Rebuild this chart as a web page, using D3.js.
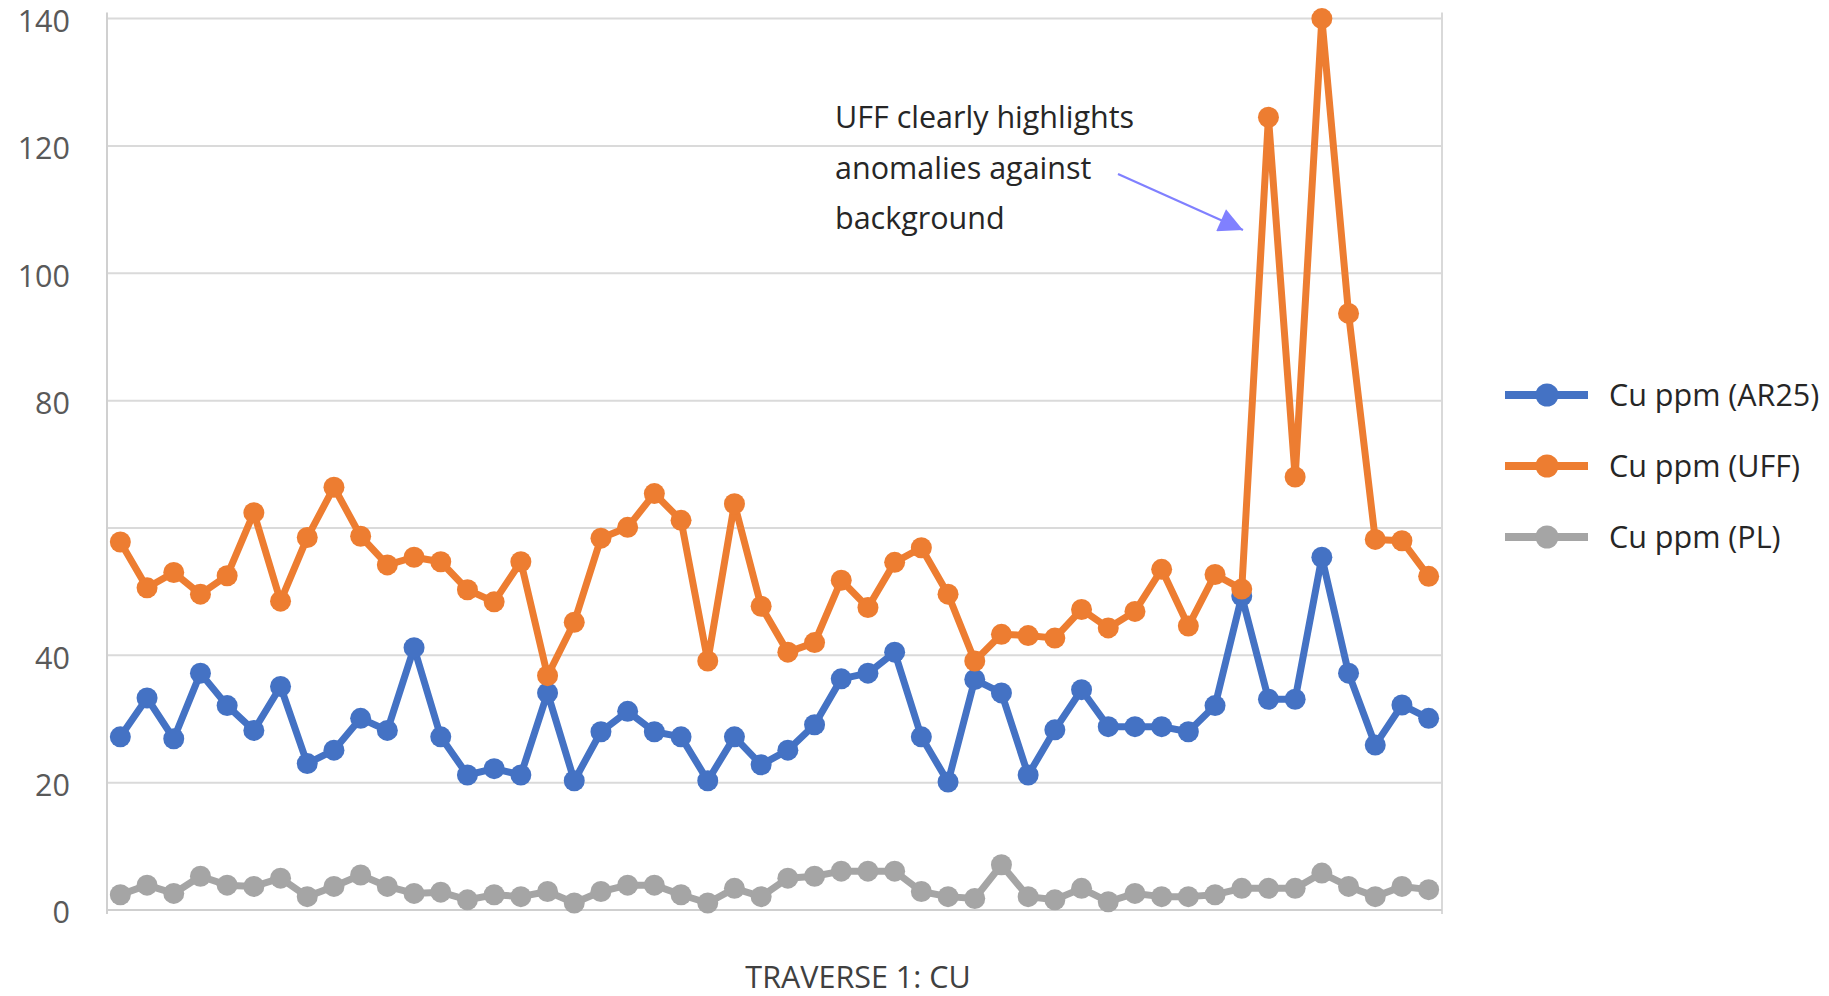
<!DOCTYPE html>
<html>
<head>
<meta charset="utf-8">
<script src="https://cdn.jsdelivr.net/npm/d3@7"></script>
<style>
  html, body { margin: 0; padding: 0; background: #fff; }
  svg { display: block; font-family: "Open Sans", "Noto Sans", sans-serif; }
</style>
</head>
<body>
<svg id="chart" width="1829" height="996"></svg>
<script>
// ---- data ----
const categories = [1,2,3,4,5,6,7,8,9,10,11,12,13,14,15,16,17,18,19,20,21,22,23,24,25,
                    26,27,28,29,30,31,32,33,34,35,36,37,38,39,40,41,42,43,44,45,46,47,48,49,50];
const cuAR25 = [27.2,33.3,26.9,37.2,32.1,28.2,35.1,23.0,25.1,30.1,28.2,41.2,27.2,
                21.2,22.2,21.2,34.1,20.3,28.0,31.2,28.0,27.2,20.3,27.2,22.8,
                25.1,29.1,36.3,37.2,40.5,27.2,20.1,36.2,34.1,21.2,28.3,34.6,
                28.8,28.8,28.8,28.0,32.1,49.3,33.1,33.1,55.4,37.2,25.9,32.2,30.1];
const cuUFF = [57.8,50.6,53.0,49.6,52.5,62.4,48.5,58.5,66.4,58.7,54.2,55.4,54.7,
               50.3,48.4,54.7,36.8,45.2,58.4,60.1,65.4,61.2,39.1,63.8,47.7,
               40.5,42.0,51.8,47.5,54.6,56.9,49.6,39.1,43.3,43.1,42.7,47.2,
               44.3,46.9,53.5,44.6,52.7,50.4,124.5,68.0,140,93.7,58.2,58.0,52.4];
const cuPL = [2.4,3.9,2.6,5.3,3.9,3.7,5.0,2.1,3.7,5.5,3.7,2.6,2.8,
              1.6,2.4,2.1,2.9,1.1,2.9,3.9,3.9,2.4,1.1,3.4,2.1,
              5.0,5.3,6.1,6.1,6.1,2.9,2.1,1.8,7.1,2.1,1.6,3.4,
              1.3,2.6,2.1,2.1,2.4,3.4,3.4,3.4,5.8,3.7,2.1,3.7,3.2];
const seriesNames = ["Cu ppm (AR25)", "Cu ppm (UFF)", "Cu ppm (PL)"];
const seriesColors = ["#4472C4", "#ED7D31", "#A5A5A5"];
const gridTicks = [0,20,40,60,80,100,120,140];
const tickLabels = [0,20,40,80,100,120,140];
const chartTitle = "TRAVERSE 1: CU";
const noteLines = ["UFF clearly highlights", "anomalies against", "background"];

// ---- layout ----
const svg = d3.select("#chart");
const pLeft = 107, pRight = 1442, pTop = 18.6, pBottom = 910;

const x = d3.scalePoint().domain(categories).range([pLeft, pRight]).padding(0.5);
const y = d3.scaleLinear().domain([0, 140]).range([pBottom, pTop]);

// gridlines
svg.append("g").selectAll("line").data(gridTicks).join("line")
  .attr("x1", pLeft).attr("x2", pRight)
  .attr("y1", d => y(d)).attr("y2", d => y(d))
  .attr("stroke", "#dadada").attr("stroke-width", 2);

// left & right borders
svg.append("line").attr("x1", pLeft).attr("x2", pLeft).attr("y1", pTop - 6).attr("y2", pBottom + 4)
  .attr("stroke", "#d0d0d0").attr("stroke-width", 2);
svg.append("line").attr("x1", pRight).attr("x2", pRight).attr("y1", pTop - 6).attr("y2", pBottom + 4)
  .attr("stroke", "#d9d9d9").attr("stroke-width", 2);
svg.append("line").attr("x1", pLeft).attr("x2", pRight).attr("y1", y(0)).attr("y2", y(0))
  .attr("stroke", "#cfcfcf").attr("stroke-width", 2);

// y axis labels
const yAxis = d3.axisLeft(y).tickValues(tickLabels).tickSize(0).tickPadding(0);
const gy = svg.append("g").attr("transform", "translate(70,3)").call(yAxis);
gy.select(".domain").remove();
gy.selectAll("text").attr("font-size", 30.5).attr("fill", "#595959")
  .attr("font-family", "'Open Sans', sans-serif");

// series
const allSeries = [cuAR25, cuUFF, cuPL];
const lineGen = d3.line().x((d, i) => x(categories[i])).y(d => y(d));
allSeries.forEach((vals, si) => {
  const g = svg.append("g");
  g.append("path").datum(vals).attr("d", lineGen)
    .attr("fill", "none").attr("stroke", seriesColors[si])
    .attr("stroke-width", 7).attr("stroke-linejoin", "round");
  g.selectAll("circle").data(vals).join("circle")
    .attr("cx", (d, i) => x(categories[i])).attr("cy", d => y(d))
    .attr("r", 10.5).attr("fill", seriesColors[si]);
});

// annotation
const note = svg.append("text").attr("x", 835).attr("y", 128)
  .attr("font-size", 30.5).attr("fill", "#262626");
noteLines.forEach((t, i) => {
  note.append("tspan").attr("x", 835).attr("y", 128 + i * 50.5).text(t);
});
svg.append("defs").append("marker")
  .attr("id", "arrow").attr("viewBox", "0 0 10 10").attr("refX", 10).attr("refY", 5)
  .attr("markerUnits", "userSpaceOnUse").attr("orient", "auto")
  .attr("markerWidth", 26).attr("markerHeight", 24)
  .append("path").attr("d", "M0,0 L10,5 L0,10 Z").attr("fill", "#8080ff");
svg.append("line").attr("x1", 1118).attr("y1", 174).attr("x2", 1243).attr("y2", 230)
  .attr("stroke", "#8080ff").attr("stroke-width", 2.2).attr("marker-end", "url(#arrow)");

// legend
const legend = svg.append("g");
seriesNames.forEach((name, i) => {
  const ly = 395 + i * 71;
  legend.append("line").attr("x1", 1505).attr("x2", 1588).attr("y1", ly).attr("y2", ly)
    .attr("stroke", seriesColors[i]).attr("stroke-width", 8);
  legend.append("circle").attr("cx", 1547).attr("cy", ly).attr("r", 11.5).attr("fill", seriesColors[i]);
  legend.append("text").attr("x", 1609).attr("y", ly + 11)
    .attr("font-size", 30.5).attr("fill", "#262626").text(name);
});

// title
svg.append("text").attr("x", 858).attr("y", 988).attr("text-anchor", "middle")
  .attr("font-size", 30.5).attr("fill", "#404040").text(chartTitle);
</script>
</body>
</html>
